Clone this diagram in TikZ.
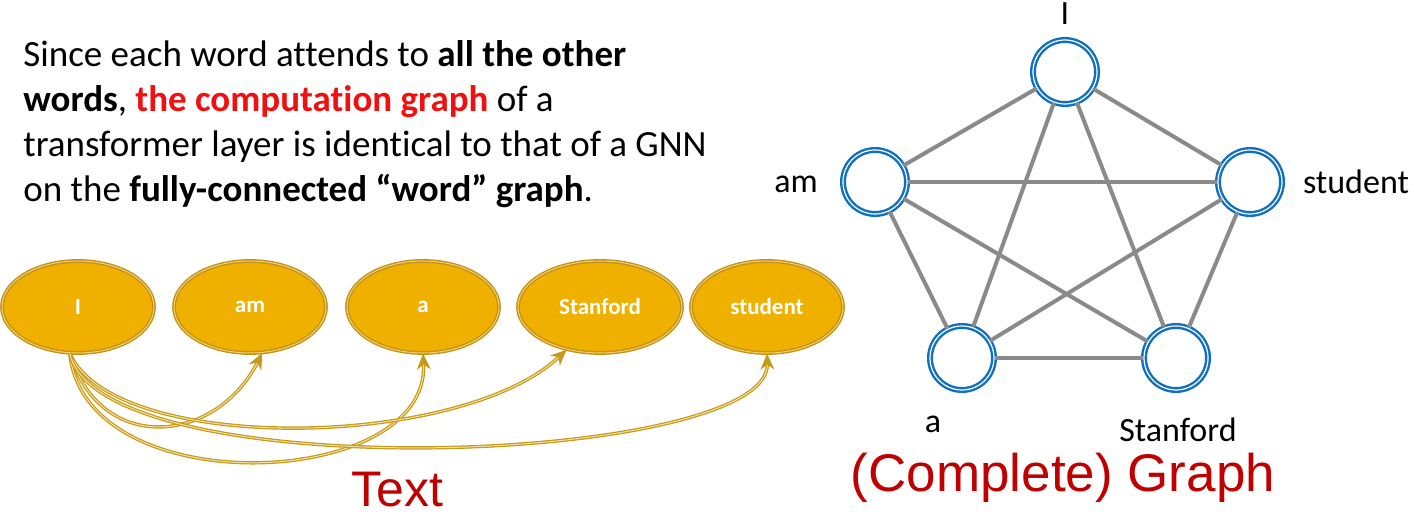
\documentclass[tikz,border=0pt]{standalone}
\usepackage{fontspec}
\setmainfont{Carlito}[Ligatures={TeX,NoCommon}]
\newfontfamily\arialfont{Liberation Sans}
\usetikzlibrary{arrows.meta,shapes.geometric}
\definecolor{wordgold}{HTML}{F0B000}
\definecolor{wordedge}{HTML}{C2921A}
\definecolor{attnarrow}{HTML}{C49A1C}
\definecolor{nodeblue}{HTML}{1070C0}
\definecolor{edgegray}{HTML}{8A8A8A}
\definecolor{titlered}{HTML}{C00000}
\definecolor{hlred}{HTML}{F01010}

\begin{document}
\begin{tikzpicture}[x=0.5pt, y=-0.5pt,
    word/.style={ellipse, fill=wordgold, draw=wordedge, double=wordgold!60!white, double distance=0.5pt, line width=0.7pt,
      minimum width=76pt, minimum height=46pt, inner sep=0pt, text=white, font=\fontsize{11.5}{13}\selectfont\bfseries},
    attn/.style={draw=attnarrow, double=wordgold!40!white, double distance=0.5pt, line width=0.6pt, -{Stealth[length=8pt, width=7pt]}},
    vertex/.style={circle, draw=nodeblue, double=white, double distance=0.6pt, line width=1.2pt, minimum size=32pt, inner sep=0pt},
    link/.style={draw=edgegray, line width=2pt},
    vlab/.style={font=\fontsize{17}{20}\selectfont},
    title/.style={font=\arialfont\fontsize{25}{28}\selectfont, text=titlered}
  ]
  \useasboundingbox (0,0) rectangle (1414,522);

  % explanation
  \node[anchor=north west, inner sep=0pt, align=left, font=\fontsize{18.5}{22.5}\selectfont] (note) at (23,40)
    {Since each word attends to \textbf{all the other}\\
     \textbf{words}, \textcolor{hlred}{\textbf{the computation graph}} of a\\
     transformer layer is identical to that of a GNN\\
     on the \textbf{fully-connected ``word'' graph}.};

  % sentence as text
  \node[word] (I) at (78,307) {I};
  \node[word] (am) at (250,307) {am};
  \node[word] (a) at (423,307) {a};
  \node[word, minimum width=82pt] (Stanford) at (600,307) {Stanford};
  \node[word] (student) at (767,307) {student};

  \draw[attn] (I.-100) .. controls (100,455) and (215,445) .. (am.-75);
  \draw[attn] (I.-100) .. controls (85,505) and (430,490) .. (a.-90);
  \draw[attn] (I.-100) .. controls (115,455) and (460,450) .. (Stanford.-128);
  \draw[attn] (I.-100) .. controls (100,490) and (770,465) .. (student.-90);

  \node[title] (texttitle) at (397,490) {Text};

  % sentence as complete graph
  \node[vertex] (gI) at (1065,72) {};
  \node[vertex] (gam) at (875,182) {};
  \node[vertex] (gstudent) at (1250,182) {};
  \node[vertex] (ga) at (962,358) {};
  \node[vertex] (gStanford) at (1176,358) {};

  \foreach \u/\v in {gI/gam, gI/gstudent, gI/ga, gI/gStanford, gam/gstudent,
                     gam/ga, gam/gStanford, gstudent/ga, gstudent/gStanford, ga/gStanford}
    \draw[link] (\u) -- (\v);

  \node[vlab] (lI) at (1065,14) {I};
  \node[vlab] (lam) at (796,184) {am};
  \node[vlab] (lstudent) at (1356,182) {student};
  \node[vlab] (la) at (933,424) {a};
  \node[vlab] (lStanford) at (1178,430) {Stanford};

  \node[title, font=\arialfont\fontsize{26.5}{30}\selectfont] (graphtitle) at (1063,478) {(Complete) Graph};
\end{tikzpicture}
\end{document}
